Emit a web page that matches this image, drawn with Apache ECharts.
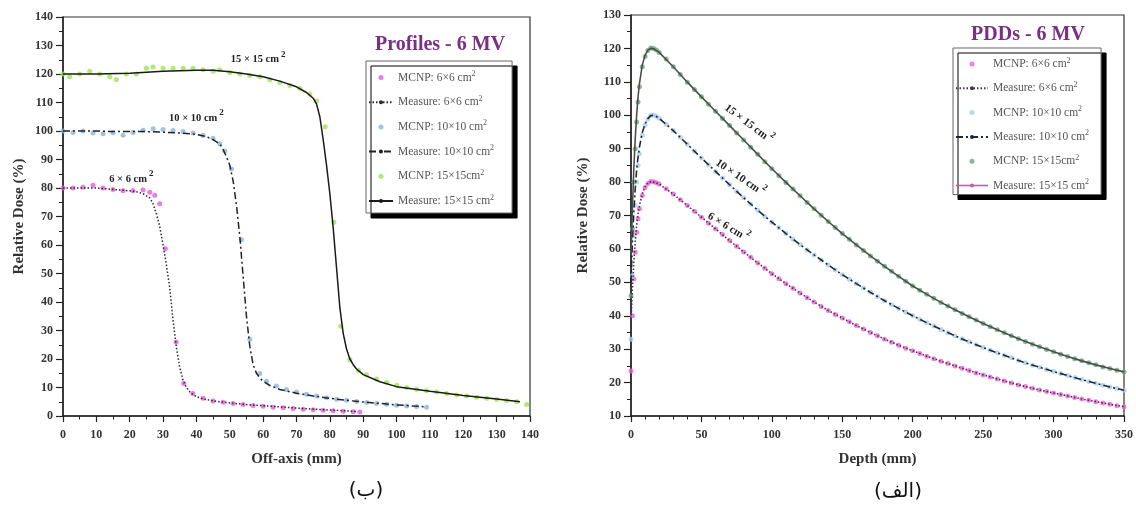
<!DOCTYPE html>
<html>
<head>
<meta charset="utf-8">
<script src="https://cdn.jsdelivr.net/npm/echarts@6/dist/echarts.min.js"></script>
<style>
html,body{margin:0;padding:0;background:#fff;}
#main{width:1136px;height:506px;}
</style>
</head>
<body>
<div id="main"></div>
<script>
// ---------- Profiles - 6 MV (left panel) ----------
var offAxis6Mcnp = [0,3,6,9,12,15,18,21,24,26,27.5,29,30.7,33.9,36.2,38.9,42,45,48,51,54,57,60,63,66,69,72,75,78,81,84,87,89];
var dose6Mcnp = [80,80,80.3,81,80,79.5,79,79,79.3,78.5,77.5,74.5,58.7,26,11.4,7.9,6.2,5.3,4.8,4.4,4,3.7,3.4,3.1,2.9,2.6,2.4,2.2,2,1.8,1.7,1.5,1.4];
var offAxis6Meas = [0,5,10,15,20,22,24,26,27,28,29,30,31,32,33,34,35,36,37,38,39,40,42,45,50,55,60,65,70,75,80,85,88];
var dose6Meas = [80,80,80,79.5,79,78.7,78,76.5,74.5,71,66.5,60,53,45,33.5,24,17,12.5,10,8.5,7.5,6.8,6,5.3,4.6,4,3.6,3.2,2.8,2.4,2.1,1.8,1.6];

var offAxis10Mcnp = [0,3,6,9,12,15,18,21,24,27,30,33,36,39,42,45,47,48.5,50.5,53.5,56,59,61,64,67,70,73,76,79,82,85,88,91,94,97,100,103,106,109];
var dose10Mcnp = [100,99.5,100,99.3,99,99.4,98.5,99.5,100.3,100.8,100.5,100.2,99.8,99.3,98.5,97.5,95.5,93,86.7,61.8,26.9,14.9,12.2,10.5,9.3,8.4,7.6,7,6.4,5.9,5.5,5.1,4.7,4.4,4.1,3.8,3.5,3.3,3.1];
var offAxis10Meas = [0,5,10,15,20,25,30,35,40,43,45,47,48,49,50,51,52,53,54,55,56,57,58,59,60,62,65,70,75,80,85,90,95,100,105,109];
var dose10Meas = [100,100,100,99.8,99.8,99.8,99.6,99.3,98.8,98,97,95.5,93.5,91,88,82.5,74,63,49,35,24.5,18,15,13.3,12.2,10.7,9.3,8,7,6.2,5.5,4.9,4.4,3.9,3.5,3.2];

var offAxis15Mcnp = [0,2,5,8,11,14,16,19,22,25,27,30,33,36,39,42,45,47,50,53,56,59,62,65,68,71,74,76,78.6,81.2,83.3,86,88.6,91,94,97,100,103,106,109,112,115,118,121,124,127,130,133,136,139];
var dose15Mcnp = [120,119,120,121,120,119,118,120,120,122,122.5,122,122,122,122,121.5,121,121.5,120.5,120,119.5,119,118,117,116,115,113,110.5,101.5,68,31.5,19.8,16,14.5,13,11.8,10.8,10,9.4,8.9,8.4,7.9,7.4,7,6.6,6.2,5.8,5.4,5,4];
var offAxis15Meas = [0,10,20,30,40,45,50,55,60,65,70,73,75,76,77,78,79,80,81,82,83,84,85,86,87,88,90,95,100,110,120,130,137];
var dose15Meas = [120,120,120.3,121,121.3,121.3,120.8,120,119,117.5,115.5,113.5,111.5,109.5,105,97,88,78,66,52,38,29,23.5,20,18,16.5,14.5,12,10.3,8.7,7.2,6,5];

// ---------- PDDs - 6 MV (right panel) ----------
var depthMcnp = [0,1,2,3,4,5,6,8,10,12,14,16,18,20,25,30,35,40,45,50,55,60,65,70,75,80,85,90,95,100,105,110,115,120,125,130,135,140,145,150,155,160,165,170,175,180,185,190,195,200,205,210,215,220,225,230,235,240,245,250,255,260,265,270,275,280,285,290,295,300,305,310,315,320,325,330,335,340,345,350];
var pdd6Mcnp = [23.5,40,51,59,65,69,72,76,78.4,79.6,80.2,80.1,79.8,79.4,78,76.4,74.7,73,71.3,69.5,67.7,66,64.3,62.5,60.8,59.1,57.5,55.8,54.2,52.6,51.1,49.6,48.2,46.8,45.4,44.1,42.8,41.6,40.4,39.3,38.2,37.1,36,35,34,33,32.1,31.2,30.3,29.5,28.7,27.9,27.1,26.4,25.7,25,24.3,23.6,22.9,22.3,21.7,21.1,20.5,19.9,19.3,18.8,18.3,17.8,17.3,16.9,16.4,16,15.5,15.1,14.7,14.3,13.9,13.5,13.1,12.8];
var pdd10Mcnp = [33,52,64,73,80,85,88.5,94,97,98.9,99.9,100.1,99.7,99.1,97.3,95.4,93.4,91.3,89.3,87.2,85.2,83.2,81.2,79.2,77.2,75.3,73.4,71.6,69.8,68,66.3,64.6,62.9,61.3,59.7,58.2,56.7,55.2,53.7,52.3,50.9,49.6,48.3,47,45.7,44.5,43.3,42.2,41.1,40,38.9,37.9,36.9,35.9,34.9,34,33.1,32.2,31.3,30.5,29.7,28.9,28.1,27.4,26.6,25.9,25.2,24.6,23.9,23.3,22.7,22.1,21.5,20.9,20.3,19.8,19.2,18.7,18.2,17.7];
var pdd15Mcnp = [46,66,80,90,98,104,108.5,114.5,117.6,119.4,120.1,120,119.5,118.8,116.8,114.5,112.2,109.9,107.7,105.5,103.3,101.2,99,96.9,94.7,92.6,90.4,88.3,86.1,84,81.9,79.9,77.9,75.9,73.9,72,70.1,68.2,66.4,64.6,62.9,61.2,59.5,57.9,56.3,54.8,53.3,51.8,50.3,48.9,47.6,46.4,45.2,44,42.9,41.8,40.7,39.7,38.7,37.7,36.7,35.8,34.9,34,33.1,32.3,31.5,30.7,29.9,29.2,28.5,27.8,27.1,26.5,25.9,25.3,24.7,24.2,23.7,23.2];

var depthMeas = [0,1,2,3,4,5,6,8,10,12,14,16,18,20,30,40,50,60,70,80,90,100,110,120,130,140,150,160,170,180,190,200,210,220,230,240,250,260,270,280,290,300,310,320,330,340,350];
var pdd6Meas = [38,48,56,62,67,70.5,73,76.5,78.6,79.7,80.1,80,79.7,79.4,76.4,73,69.5,66,62.5,59.1,55.8,52.6,49.6,46.8,44.1,41.6,39.3,37.1,35,33,31.2,29.5,27.9,26.4,25,23.6,22.3,21.1,19.9,18.8,17.8,16.9,16,15.1,14.3,13.5,12.8];
var pdd10Meas = [50,62,71,78,83.5,87.5,90.5,94.8,97.4,99,99.9,100,99.6,99.1,95.4,91.3,87.2,83.2,79.2,75.3,71.6,68,64.6,61.3,58.2,55.2,52.3,49.6,47,44.5,42.2,40,37.9,35.9,34,32.2,30.5,28.9,27.4,25.9,24.6,23.3,22.1,20.9,19.8,18.7,17.7];
var pdd15Meas = [58,72,84,93,100,105.5,109.5,115,118,119.5,120,119.9,119.4,118.8,114.5,109.9,105.5,101.2,96.9,92.6,88.3,84,79.9,75.9,72,68.2,64.6,61.2,57.9,54.8,51.8,48.9,46.4,44,41.8,39.7,37.7,35.8,34,32.3,30.7,29.2,27.8,26.5,25.3,24.2,23.2];

var SERIF = '"Liberation Serif", "DejaVu Serif", serif';

var legendText = {
    p6mc: 'MCNP: 6×6 cm{s|2}', p6ms: 'Measure: 6×6 cm{s|2}',
    p10mc: 'MCNP: 10×10 cm{s|2}', p10ms: 'Measure: 10×10 cm{s|2}',
    p15mc: 'MCNP: 15×15cm{s|2}', p15ms: 'Measure: 15×15 cm{s|2}',
    d6mc: 'MCNP: 6×6 cm{s|2}', d6ms: 'Measure: 6×6 cm{s|2}',
    d10mc: 'MCNP: 10×10 cm{s|2}', d10ms: 'Measure: 10×10 cm{s|2}',
    d15mc: 'MCNP: 15×15cm{s|2}', d15ms: 'Measure: 15×15 cm{s|2}'
};

function pairs(xs, ys) {
    return xs.map(function (x, i) { return [x, ys[i]]; });
}

function xAxisOf(grid, min, max, step, minorSplit, name) {
    return {
        gridIndex: grid, type: 'value', min: min, max: max, interval: step,
        name: name, nameLocation: 'middle', nameGap: 36,
        nameTextStyle: { fontFamily: SERIF, fontWeight: 'bold', fontSize: 15, color: '#333' },
        axisLine: { onZero: false, lineStyle: { color: '#222', width: 1.5 } },
        axisTick: { length: 6, lineStyle: { color: '#222', width: 1.2 } },
        minorTick: { show: true, splitNumber: minorSplit, length: 3.5, lineStyle: { color: '#222', width: 1 } },
        axisLabel: { margin: 13, fontFamily: SERIF, fontWeight: 'bold', fontSize: 12, color: '#333' },
        splitLine: { show: false }
    };
}

function yAxisOf(grid, min, max, step, name, gap) {
    return {
        gridIndex: grid, type: 'value', min: min, max: max, interval: step,
        name: name, nameLocation: 'middle', nameGap: gap,
        nameTextStyle: { fontFamily: SERIF, fontWeight: 'bold', fontSize: 15, color: '#333' },
        axisLine: { onZero: false, lineStyle: { color: '#222', width: 1.5 } },
        axisTick: { length: 7, lineStyle: { color: '#222', width: 1.2 } },
        minorTick: { show: true, splitNumber: 2, length: 4, lineStyle: { color: '#222', width: 1 } },
        axisLabel: { margin: 10, fontFamily: SERIF, fontWeight: 'bold', fontSize: 12, color: '#333' },
        splitLine: { show: false }
    };
}

function legendOf(left, top, pad, gap, iconW, names, lineOverride) {
    return {
        orient: 'vertical', left: left, top: top, selectedMode: false,
        padding: pad, itemGap: gap, itemWidth: iconW, itemHeight: 5,
        backgroundColor: '#fff', borderColor: '#666', borderWidth: 1,
        shadowColor: '#000', shadowBlur: 0, shadowOffsetX: 5, shadowOffsetY: 5,
        textStyle: {
            fontFamily: SERIF, fontSize: 11.5, color: '#555',
            rich: { s: { fontFamily: SERIF, fontSize: 8, color: '#555', padding: [0, 0, 7, 0] } }
        },
        formatter: function (n) { return legendText[n]; },
        data: names.map(function (n) {
            return lineOverride[n] ? { name: n, lineStyle: lineOverride[n], itemStyle: { color: lineOverride[n].color } } : { name: n };
        })
    };
}

function scatter(name, axis, data, color, size) {
    return {
        name: name, type: 'scatter', xAxisIndex: axis, yAxisIndex: axis,
        data: data, symbol: 'circle', symbolSize: size, z: 2,
        itemStyle: { color: color }
    };
}

function line(name, axis, data, color, type, width) {
    return {
        name: name, type: 'line', xAxisIndex: axis, yAxisIndex: axis,
        data: data, symbol: 'none', z: 3,
        itemStyle: { color: color },
        lineStyle: { color: color, type: type, width: width }
    };
}

function note(text, x, y, rot, size) {
    return {
        symbol: 'circle', symbolSize: 1, silent: true,
        itemStyle: { color: 'rgba(0,0,0,0)' },
        label: {
            show: true, position: 'inside', rotate: rot, formatter: text,
            fontFamily: SERIF, fontWeight: 'bold', fontSize: size, color: '#222',
            rich: { s: { fontFamily: SERIF, fontWeight: 'bold', fontSize: 9, color: '#222', padding: [0, 0, 11, 2] } }
        },
        data: [{ coord: [x, y] }]
    };
}

var chart = echarts.init(document.getElementById('main'));

var sP6 = line('p6ms', 0, pairs(offAxis6Meas, dose6Meas), '#2a2a2a', [1.5, 2], 1.5);
sP6.markPoint = note('6 × 6 cm{s|2}', 20.5, 83, 0, 10.5);
var sP10 = line('p10ms', 0, pairs(offAxis10Meas, dose10Meas), '#222', [7, 3, 2, 3], 1.5);
sP10.markPoint = note('10 × 10 cm{s|2}', 40, 104.5, 0, 10.5);
var sP15 = line('p15ms', 0, pairs(offAxis15Meas, dose15Meas), '#1a1a1a', 'solid', 1.5);
sP15.markPoint = note('15 × 15 cm{s|2}', 58.5, 125, 0, 10.5);

var sD6 = line('d6ms', 1, pairs(depthMeas, pdd6Meas), '#4a3050', [1.5, 2], 1.6);
sD6.markPoint = note('6 × 6 cm{s|2}', 69, 66.5, -31, 11);
var sD10 = line('d10ms', 1, pairs(depthMeas, pdd10Meas), '#1c2838', [7, 3, 2, 3], 1.6);
sD10.markPoint = note('10 × 10 cm{s|2}', 77.5, 81.3, -34, 11);
var sD15 = line('d15ms', 1, pairs(depthMeas, pdd15Meas), '#4a5048', 'solid', 1.6);
sD15.markPoint = note('15 × 15 cm{s|2}', 83.5, 97.4, -37, 11);

var option = {
    animation: false,
    backgroundColor: '#fff',
    grid: [
        { left: 63, top: 17, width: 467, height: 399, show: true, borderColor: '#333', borderWidth: 1.2 },
        { left: 631, top: 15, width: 500, height: 401, show: true, borderColor: '#333', borderWidth: 1.2 }
    ],
    xAxis: [
        xAxisOf(0, 0, 140, 10, 2, 'Off-axis (mm)'),
        xAxisOf(1, 0, 350, 50, 5, 'Depth (mm)')
    ],
    yAxis: [
        yAxisOf(0, 0, 140, 10, 'Relative Dose (%)', 36),
        yAxisOf(1, 10, 130, 10, 'Relative Dose (%)', 40)
    ],
    legend: [
        legendOf(366, 61, [9, 18, 6, 2], 11.2, 24,
            ['p6mc', 'p6ms', 'p10mc', 'p10ms', 'p15mc', 'p15ms'], {}),
        legendOf(953, 48, [8.5, 12, 3, 2], 10.8, 32,
            ['d6mc', 'd6ms', 'd10mc', 'd10ms', 'd15mc', 'd15ms'],
            { d15ms: { color: '#c0609f', type: 'solid', width: 1.6 } })
    ],
    graphic: [
        { type: 'text', x: 440, y: 45, style: { text: 'Profiles - 6 MV', align: 'center', verticalAlign: 'middle',
            font: 'bold 20px "Liberation Serif"', fill: '#7a2e86' } },
        { type: 'text', x: 1028, y: 35, style: { text: 'PDDs - 6 MV', align: 'center', verticalAlign: 'middle',
            font: 'bold 20px "Liberation Serif"', fill: '#7a2e86' } },
        { type: 'text', x: 366, y: 491, style: { text: '(ب)', align: 'center', verticalAlign: 'middle',
            font: '20px "DejaVu Sans"', fill: '#111' } },
        { type: 'text', x: 898, y: 492, style: { text: '(الف)', align: 'center', verticalAlign: 'middle',
            font: '20px "DejaVu Sans"', fill: '#111' } }
    ],
    series: [
        scatter('p6mc', 0, pairs(offAxis6Mcnp, dose6Mcnp), '#e35be3', 5),
        sP6,
        scatter('p10mc', 0, pairs(offAxis10Mcnp, dose10Mcnp), '#8ab4dc', 5),
        sP10,
        scatter('p15mc', 0, pairs(offAxis15Mcnp, dose15Mcnp), '#9be64f', 5),
        sP15,
        scatter('d6mc', 1, pairs(depthMcnp, pdd6Mcnp), '#ee5fd8', 5),
        sD6,
        scatter('d10mc', 1, pairs(depthMcnp, pdd10Mcnp), '#a9cdef', 5),
        sD10,
        scatter('d15mc', 1, pairs(depthMcnp, pdd15Mcnp), '#6aa57a', 5),
        sD15
    ]
};

chart.setOption(option);
</script>
</body>
</html>
